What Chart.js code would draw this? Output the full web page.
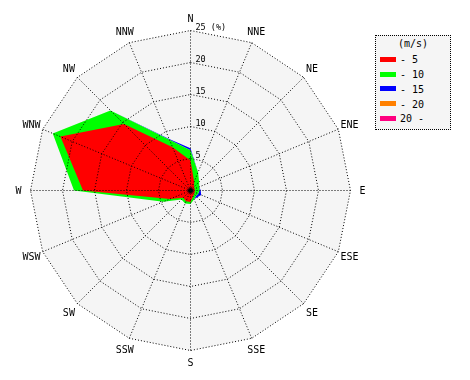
<!DOCTYPE html>
<html><head><meta charset="utf-8">
<script src="https://cdn.jsdelivr.net/npm/chart.js@4"></script>
<style>
html,body{margin:0;padding:0;background:#fff;}
#wrap{position:relative;width:470px;height:380px;}
#legend{position:absolute;left:375px;top:35px;width:76px;height:95px;box-sizing:border-box;border:1px dotted #000;background:#f5f5f5;font:10px "DejaVu Sans Mono",monospace;color:#000;}
#legend .t{position:absolute;left:0;right:0;top:2px;text-align:center;line-height:12px;}
#legend .it{position:absolute;left:4px;height:12px;line-height:12px;white-space:pre;}
#legend .sw{display:inline-block;width:16px;height:5px;vertical-align:middle;margin-right:4px;position:relative;top:-1px;}
</style></head><body>
<div id="wrap"><canvas id="c" width="470" height="380"></canvas><div id="legend"><div class="t">(m/s)</div></div></div>
<script>
const directions = ['N','NNE','NE','ENE','E','ESE','SE','SSE','S','SSW','SW','WSW','W','WNW','NW','NNW'];
const speedClasses = ['- 5','- 10','- 15','- 20','20 -'];
const speedColors = ['#ff0000','#00ff00','#0000ff','#ff8000','#ff0080'];
const pct0to5   = [4.7,1.5,0.8,0.7,0.7,0.7,0.8,1.0,1.8,1.8,1.6,3.5,16.8,22.0,14.7,7.3];
const pct5to10  = [1.6,1.6,1.1,0.8,0.7,0.6,0.4,0.5,0.3,0.4,0.4,1.1,1.4,1.3,3.0,1.3];
const pct10to15 = [0.3,0,0,0,0.2,0.5,0.3,0,0,0,0,0,0,0,0,0.1];
const pct15to20 = [0,0,0,0,0,0,0,0,0,0,0,0,0,0,0,0];
const pct20up   = [0,0,0,0,0,0,0,0,0,0,0,0,0,0,0,0];
const radialTicks = [5,10,15,20,25];
const tickUnit = '(%)';

const bands = [pct0to5,pct5to10,pct10to15,pct15to20,pct20up];
const cumulative = [];
bands.forEach((b,k)=>{
  cumulative.push(b.map((v,i)=> +(v + (k ? cumulative[k-1][i] : 0)).toFixed(2)));
});

const datasets = bands.map((b,k)=>({
  label: speedClasses[k],
  data: cumulative[k],
  backgroundColor: speedColors[k],
  borderColor: 'rgba(0,0,0,0)',
  borderWidth: 1,
  pointRadius: 0,
  fill: k < 2 ? 'origin' : '-1'
}));

// HTML legend
const lg = document.getElementById('legend');
const centers = [24.3,39.05,53.8,68.55,83.3];
speedClasses.forEach((lab,k)=>{
  const d = document.createElement('div');
  d.className='it'; d.style.top=(centers[k]-6)+'px';
  const sw = document.createElement('span'); sw.className='sw'; sw.style.background=speedColors[k];
  d.appendChild(sw); d.appendChild(document.createTextNode(lab));
  lg.appendChild(d);
});

const decor = {
  id:'decor',
  beforeDraw(chart){ chart.ctx.save(); chart.ctx.translate(0.5,0.5); },
  beforeDatasetsDraw(chart){
    const s = chart.scales.r, ctx = chart.ctx;
    const R = s.getDistanceFromCenterForValue(s.max);
    ctx.save(); ctx.beginPath();
    directions.forEach((d,i)=>{ const p = s.getPointPosition(i,R); if(i) ctx.lineTo(p.x,p.y); else ctx.moveTo(p.x,p.y); });
    ctx.closePath(); ctx.fillStyle='#f5f5f5'; ctx.fill(); ctx.restore();
  },
  afterDraw(chart){
    const s = chart.scales.r, ctx = chart.ctx;
    ctx.save();
    // center mark
    ctx.beginPath(); ctx.arc(s.xCenter, s.yCenter, 2.5, 0, Math.PI*2); ctx.fillStyle='#000'; ctx.fill();
    // direction labels
    ctx.font = '10px "DejaVu Sans Mono"'; ctx.textAlign='center'; ctx.textBaseline='middle'; ctx.fillStyle='#000';
    directions.forEach((d,i)=>{ const p = s.getPointPosition(i, s.drawingArea + 12); ctx.fillText(d, p.x, p.y + 1); });
    // radial tick labels
    ctx.font = '8.5px "DejaVu Sans Mono"'; ctx.textAlign='left'; ctx.textBaseline='alphabetic';
    radialTicks.forEach((v,j)=>{
      const y = s.yCenter - s.getDistanceFromCenterForValue(v) - 1;
      ctx.fillText(j === radialTicks.length-1 ? v + ' ' + tickUnit : String(v), s.xCenter + 5, y);
    });
    ctx.restore();
    ctx.restore();
  }
};

new Chart(document.getElementById('c'), {
  type: 'radar',
  data: { labels: directions, datasets },
  options: {
    responsive: false,
    animation: false,
    devicePixelRatio: 1,
    layout: { padding: { left: 30, top: 30, right: 120, bottom: 30 } },
    plugins: { legend: { display: false }, tooltip: { enabled: false } },
    elements: { line: { tension: 0 } },
    scales: {
      r: {
        min: 0, max: 25, beginAtZero: true, startAngle: 0,
        ticks: { display: false, stepSize: 5 },
        pointLabels: { display: false },
        grid: { color: '#000', lineWidth: 1, z: 1, circular: false },
        border: { dash: [1,2] },
        angleLines: { display: true, color: '#000', lineWidth: 1, borderDash: [1,2] }
      }
    }
  },
  plugins: [decor]
});
</script>
</body></html>
